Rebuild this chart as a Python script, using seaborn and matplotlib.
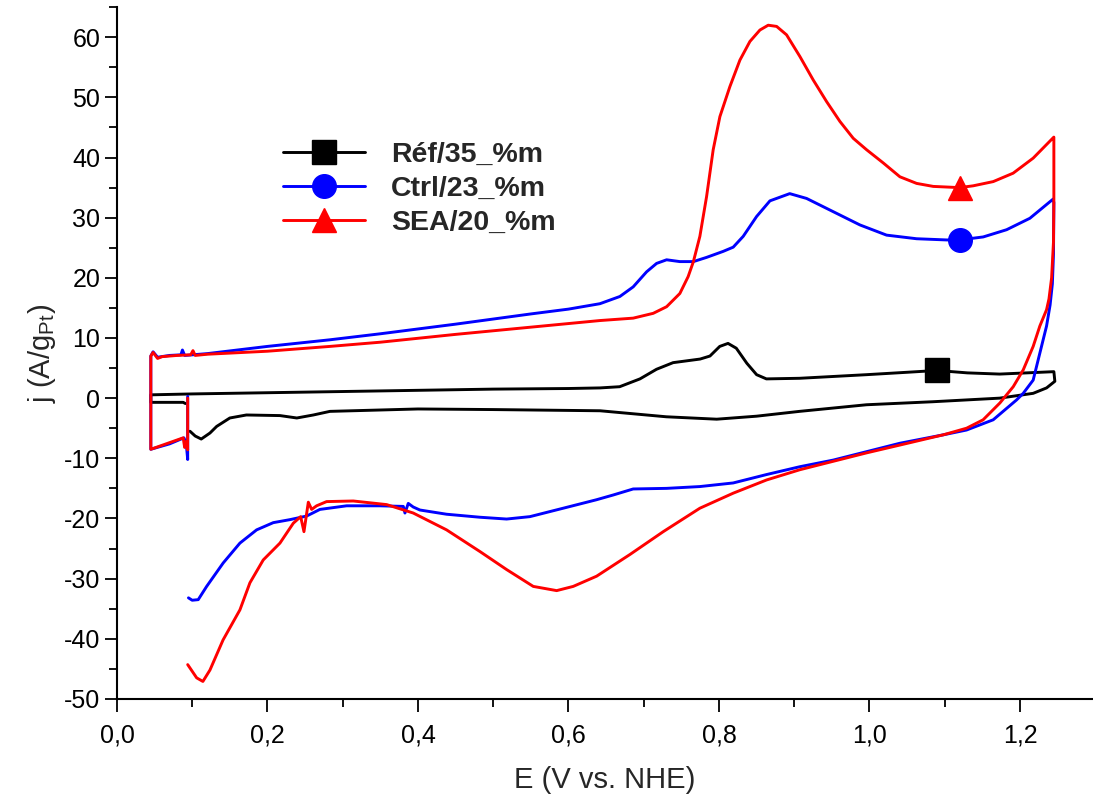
import numpy as np
import pandas as pd
import matplotlib
matplotlib.use("Agg")
import matplotlib.pyplot as plt
from matplotlib.lines import Line2D
from matplotlib.ticker import MultipleLocator, FuncFormatter
import seaborn as sns

# Réf/35_%m (noir) - potentiel E (V) et densité de courant j (A/g Pt), dans l'ordre du balayage
ref_E = [0.091, 0.088, 0.045, 0.045, 0.10, 0.20, 0.30, 0.40, 0.50, 0.60, 0.642, 0.668, 0.695,
         0.717, 0.739, 0.775, 0.788, 0.801, 0.812, 0.823, 0.837, 0.850, 0.863, 0.907, 0.996,
         1.050, 1.0896, 1.130, 1.173, 1.245, 1.2463, 1.2353, 1.2175, 1.173, 1.084, 0.996,
         0.907, 0.85, 0.797, 0.730, 0.642, 0.50, 0.40, 0.283, 0.261, 0.239, 0.2166, 0.172,
         0.150, 0.1325, 0.1236, 0.112, 0.104, 0.097]
ref_j = [-0.9, -0.7, -0.7, 0.55, 0.7, 0.9, 1.1, 1.3, 1.5, 1.6, 1.7, 1.9, 3.2,
         4.8, 5.9, 6.5, 7.0, 8.6, 9.1, 8.3, 5.8, 3.9, 3.2, 3.3, 3.9,
         4.3, 4.6, 4.2, 4.0, 4.4, 2.8, 1.7, 0.8, 0.0, -0.6, -1.1,
         -2.2, -3.0, -3.5, -3.1, -2.1, -1.9, -1.8, -2.2, -2.8, -3.3, -2.9, -2.8,
         -3.3, -4.7, -5.8, -6.8, -6.3, -5.5]
ref_mark = 26

# Ctrl/23_%m (bleu)
ctrl_E = [0.094, 0.094, 0.092, 0.089, 0.070, 0.045, 0.045, 0.048, 0.054, 0.070, 0.085, 0.087,
          0.090, 0.12, 0.20, 0.283, 0.35, 0.45, 0.55, 0.60, 0.6418, 0.6683, 0.686, 0.7038,
          0.7171, 0.7304, 0.748, 0.766, 0.7835, 0.8056, 0.8189, 0.8322, 0.850, 0.8677, 0.894,
          0.9164, 0.9518, 0.9872, 1.0227, 1.0626, 1.1024, 1.1197, 1.1511, 1.1822, 1.2131,
          1.2441, 1.245, 1.2445, 1.243, 1.240, 1.2353, 1.2264, 1.2175, 1.2043, 1.1954,
          1.1644, 1.129, 1.098, 1.0404, 0.9961, 0.9518, 0.9075, 0.8633, 0.8189, 0.7746,
          0.7304, 0.686, 0.6595, 0.637, 0.593, 0.5488, 0.5178, 0.4823, 0.438, 0.4026,
          0.3937, 0.3871, 0.3827, 0.3805, 0.3495, 0.3052, 0.2697, 0.2521, 0.2299, 0.2077,
          0.1856, 0.1634, 0.1412, 0.1192, 0.108, 0.100, 0.095]
ctrl_j = [0.3, -10.2, -7.5, -6.6, -7.6, -8.5, 7.0, 7.7, 6.8, 7.1, 7.2, 8.0,
          7.1, 7.4, 8.6, 9.7, 10.7, 12.3, 14.0, 14.8, 15.7, 16.9, 18.5, 21.0,
          22.4, 23.0, 22.7, 22.7, 23.4, 24.4, 25.1, 26.9, 30.2, 32.8, 34.0,
          33.2, 31.0, 28.8, 27.1, 26.5, 26.3, 26.3, 26.8, 28.0, 29.9,
          33.1, 32.5, 24.0, 19.0, 15.5, 12.0, 7.5, 3.0, 0.8, -0.3,
          -3.6, -5.3, -6.1, -7.5, -8.9, -10.3, -11.4, -12.7, -14.1, -14.7,
          -15.0, -15.1, -16.1, -16.9, -18.3, -19.7, -20.1, -19.8, -19.3, -18.6,
          -18.1, -17.5, -19.1, -18.0, -17.9, -17.9, -18.5, -19.6, -20.2, -20.7,
          -21.9, -24.1, -27.4, -31.3, -33.5, -33.6, -33.2]
ctrl_mark = 41

# SEA/20_%m (rouge)
sea_E = [0.094, 0.094, 0.092, 0.090, 0.088, 0.045, 0.045, 0.048, 0.054, 0.060, 0.080, 0.098,
         0.101, 0.104, 0.12, 0.20, 0.283, 0.35, 0.45, 0.55, 0.6418, 0.686, 0.7126, 0.7304,
         0.748, 0.759, 0.766, 0.7746, 0.7835, 0.7923, 0.8012, 0.8145, 0.8278, 0.8411, 0.8544,
         0.8654, 0.8766, 0.8898, 0.9075, 0.9252, 0.943, 0.9607, 0.9784, 0.9961, 1.0183,
         1.0404, 1.0626, 1.0847, 1.1197, 1.1378, 1.1644, 1.1909, 1.2175, 1.245,
         1.245, 1.245, 1.2445, 1.242, 1.2385, 1.2353, 1.2264, 1.2175, 1.2043, 1.191, 1.1733,
         1.151, 1.129, 1.098, 1.0404, 0.9961, 0.9518, 0.9075, 0.8633, 0.8189, 0.7746, 0.7259,
         0.6816, 0.6374, 0.6063, 0.5843, 0.5532, 0.5178, 0.4823, 0.438, 0.3937, 0.3584,
         0.314, 0.2786, 0.2653, 0.2587, 0.2543, 0.2485, 0.2441, 0.2343, 0.2166, 0.1944,
         0.1767, 0.1634, 0.141, 0.1236, 0.1142, 0.1059, 0.094]
sea_j = [0.0, -8.6, -7.2, -8.2, -6.6, -8.5, 7.0, 7.6, 6.6, 6.9, 7.1, 7.2,
         7.9, 7.1, 7.3, 7.8, 8.6, 9.3, 10.6, 11.8, 12.9, 13.3, 14.1, 15.2,
         17.4, 20.2, 22.7, 26.9, 33.5, 41.3, 46.8, 51.8, 56.2, 59.3, 61.2,
         62.0, 61.8, 60.4, 56.8, 52.9, 49.3, 46.0, 43.2, 41.3, 39.1,
         36.8, 35.7, 35.2, 35.0, 35.3, 36.0, 37.4, 39.9, 43.4,
         43.0, 33.0, 26.0, 20.0, 16.5, 14.7, 12.0, 8.6, 4.7, 1.9, -0.8,
         -3.6, -5.0, -6.1, -7.8, -9.1, -10.5, -11.9, -13.6, -15.8, -18.3, -22.2,
         -26.0, -29.6, -31.3, -32.0, -31.3, -28.5, -25.5, -21.9, -19.1, -17.7,
         -17.1, -17.2, -17.9, -18.5, -17.3, -22.2, -19.7, -20.8, -24.1, -26.9,
         -30.7, -35.2, -40.2, -45.2, -47.1, -46.5, -44.3]
sea_mark = 48

labels = ["Réf/35_%m", "Ctrl/23_%m", "SEA/20_%m"]
colors = ["black", "blue", "red"]
markers = ["s", "o", "^"]

frames = []
for lab, E, j in zip(labels, [ref_E, ctrl_E, sea_E], [ref_j, ctrl_j, sea_j]):
    frames.append(pd.DataFrame({"E": E, "j": j, "serie": lab}))
df = pd.concat(frames, ignore_index=True)

sns.set_style("ticks")
plt.rcParams["font.family"] = ["Liberation Sans", "DejaVu Sans"]
plt.rcParams["axes.unicode_minus"] = False

fig = plt.figure(figsize=(10.93, 7.96), dpi=100)
ax = fig.add_axes([0.107, 0.122, 0.893, 0.869])

sns.lineplot(data=df, x="E", y="j", hue="serie", hue_order=labels,
             palette=dict(zip(labels, colors)), sort=False, estimator=None,
             linewidth=2.1, legend=False, ax=ax)
for ln in ax.lines:
    ln.set_solid_joinstyle("round")

# un seul symbole par courbe, pris dans les données
for E, j, idx, c, m in zip([ref_E, ctrl_E, sea_E], [ref_j, ctrl_j, sea_j],
                           [ref_mark, ctrl_mark, sea_mark], colors, markers):
    ax.plot(E[idx], j[idx], linestyle="none", marker=m, color=c, markersize=17, zorder=5)

ax.set_xlim(0.0, 1.297)
ax.set_ylim(-50, 65)
ax.xaxis.set_major_locator(MultipleLocator(0.2))
ax.xaxis.set_minor_locator(MultipleLocator(0.1))
ax.yaxis.set_major_locator(MultipleLocator(10))
ax.yaxis.set_minor_locator(MultipleLocator(5))
ax.xaxis.set_major_formatter(FuncFormatter(lambda v, p: f"{v:.1f}".replace(".", ",")))
ax.yaxis.set_major_formatter(FuncFormatter(lambda v, p: f"{v:.0f}"))

sns.despine(ax=ax)
for s in ["left", "bottom"]:
    ax.spines[s].set_linewidth(1.5)
    ax.spines[s].set_color("black")
ax.tick_params(which="major", direction="out", length=9, width=1.3, labelsize=18,
               colors="black")
ax.tick_params(axis="x", which="major", pad=9)
ax.tick_params(axis="y", which="major", pad=3)
ax.tick_params(which="minor", direction="out", length=5.5, width=1.3, colors="black")

ax.set_xlabel("E (V vs. NHE)", fontsize=21, labelpad=13)
ax.set_ylabel("j (A/g$_\\mathregular{Pt}$)", fontsize=21, labelpad=4)

handles = [Line2D([], [], color=c, marker=m, markersize=17, linewidth=2.1)
           for c, m in zip(colors, markers)]
ax.legend(handles, labels, loc="upper left", bbox_to_anchor=(0.170, 0.805),
          frameon=False, borderpad=0, borderaxespad=0, handlelength=2.9,
          handletextpad=0.9, labelspacing=0.28, prop={"weight": "bold", "size": 20.5})

fig.savefig("out.png", dpi=100)
